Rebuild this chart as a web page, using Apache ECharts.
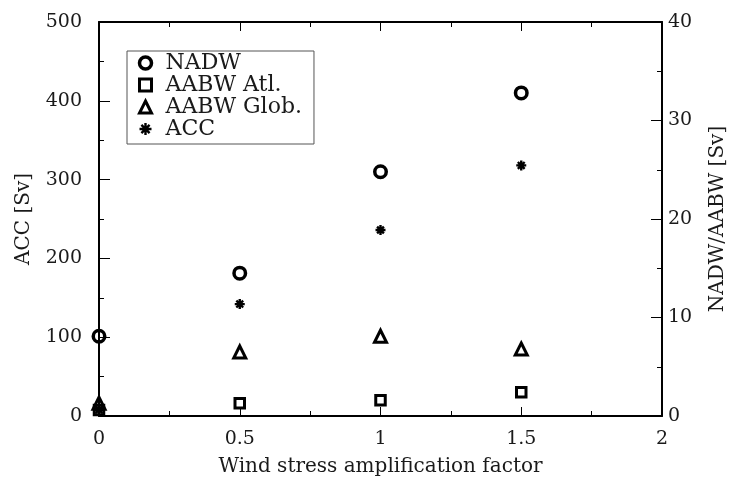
<!DOCTYPE html>
<html>
<head>
<meta charset="utf-8">
<script src="https://cdn.jsdelivr.net/npm/echarts@6/dist/echarts.min.js"></script>
<style>
  html, body { margin: 0; padding: 0; background: #fff; }
  #chart { width: 729px; height: 483px; }
</style>
</head>
<body>
<div id="chart"></div>
<script>
// Wind stress amplification factor (x positions of the experiments)
const windFactor = [0, 0.5, 1, 1.5];
// Overturning transports on the right axis [Sv]
const nadw = [8.1, 14.5, 24.8, 32.8];
const aabwAtl = [0.6, 1.3, 1.6, 2.4];
const aabwGlob = [1.3, 6.5, 8.1, 6.8];
// Antarctic Circumpolar Current on the left axis [Sv]
const acc = [8, 142, 236, 318];

const FONT = 'DejaVu Serif';
const INK = '#000';
const TEXT = '#1a1a1a';

function pairs(ys) { return windFactor.map((x, i) => [x, ys[i]]); }

const asterisk = 'path://M5,0L5,10M0,5L10,5M1.6,1.6L8.4,8.4M8.4,1.6L1.6,8.4';

const chart = echarts.init(document.getElementById('chart'), null, { renderer: 'canvas' });

const axisBase = {
  axisLine: { show: true, onZero: false, lineStyle: { color: INK, width: 2 } },
  axisTick: { show: true, inside: true, length: 10, lineStyle: { color: INK, width: 1 } },
  minorTick: { show: true, splitNumber: 2, length: 5, lineStyle: { color: INK, width: 1 } },
  splitLine: { show: false },
  minorSplitLine: { show: false }
};

function hollow(width) {
  return { color: 'none', borderColor: INK, borderWidth: width, opacity: 1 };
}

// stroke weights of the four marker kinds
const W_CIRCLE = 3.5, W_RECT = 3, W_TRI = 3, W_STAR = 2.4;

chart.setOption({
  animation: false,
  backgroundColor: '#fff',
  grid: { left: 99, right: 67, top: 22, bottom: 67, containLabel: false, outerBoundsMode: 'none' },
  legend: {
    orient: 'vertical',
    left: 127,
    top: 51,
    padding: [1, 12, 4, 10],
    itemGap: 0,
    itemWidth: 12,
    itemHeight: 12,
    borderColor: '#555',
    borderWidth: 1,
    borderRadius: 0,
    textStyle: { fontFamily: FONT, fontSize: 22, color: TEXT, lineHeight: 21.7, padding: [0, 0, 0, 9] },
    data: [
      { name: 'NADW', itemStyle: hollow(W_CIRCLE) },
      { name: 'AABW Atl.', itemStyle: hollow(W_RECT) },
      { name: 'AABW Glob.', itemStyle: hollow(W_TRI) },
      { name: 'ACC', itemStyle: hollow(W_STAR) }
    ]
  },
  xAxis: [
    Object.assign({}, axisBase, {
      type: 'value', position: 'bottom', min: 0, max: 2, interval: 0.5,
      axisTick: Object.assign({}, axisBase.axisTick, { length: 9 }),
      axisLabel: { fontFamily: FONT, fontSize: 19, color: TEXT, margin: 14 },
      name: 'Wind stress amplification factor',
      nameLocation: 'middle', nameGap: 41,
      nameTextStyle: { fontFamily: FONT, fontSize: 20, color: TEXT }
    }),
    Object.assign({}, axisBase, {
      type: 'value', position: 'top', min: 0, max: 2, interval: 0.5,
      axisTick: Object.assign({}, axisBase.axisTick, { length: 9 }),
      axisLabel: { show: false }
    })
  ],
  yAxis: [
    Object.assign({}, axisBase, {
      type: 'value', position: 'left', min: 0, max: 500, interval: 100,
      axisTick: Object.assign({}, axisBase.axisTick, { length: 11 }),
      axisLabel: { fontFamily: FONT, fontSize: 19, color: TEXT, margin: 17 },
      name: 'ACC [Sv]', nameLocation: 'middle', nameGap: 65,
      nameTextStyle: { fontFamily: FONT, fontSize: 20, color: TEXT }
    }),
    Object.assign({}, axisBase, {
      type: 'value', position: 'right', min: 0, max: 40, interval: 10,
      axisTick: Object.assign({}, axisBase.axisTick, { length: 11 }),
      axisLabel: { fontFamily: FONT, fontSize: 19, color: TEXT, margin: 6 },
      name: 'NADW/AABW [Sv]', nameLocation: 'middle', nameGap: 46, nameRotate: 90,
      nameTextStyle: { fontFamily: FONT, fontSize: 20, color: TEXT }
    })
  ],
  series: [
    {
      name: 'NADW', type: 'scatter', yAxisIndex: 1, clip: false,
      symbol: 'circle', symbolSize: 11.5,
      itemStyle: hollow(W_CIRCLE),
      data: pairs(nadw), z: 5
    },
    {
      name: 'AABW Atl.', type: 'scatter', yAxisIndex: 1, clip: false,
      symbol: 'rect', symbolSize: 9.5,
      itemStyle: hollow(W_RECT),
      data: pairs(aabwAtl), z: 5
    },
    {
      name: 'AABW Glob.', type: 'scatter', yAxisIndex: 1, clip: false,
      symbol: 'triangle', symbolSize: 12,
      itemStyle: hollow(W_TRI),
      data: pairs(aabwGlob), z: 5
    },
    {
      name: 'ACC', type: 'scatter', yAxisIndex: 0, clip: false,
      symbol: asterisk, symbolSize: 10,
      itemStyle: hollow(W_STAR),
      data: pairs(acc), z: 5
    }
  ]
});
</script>
</body>
</html>
